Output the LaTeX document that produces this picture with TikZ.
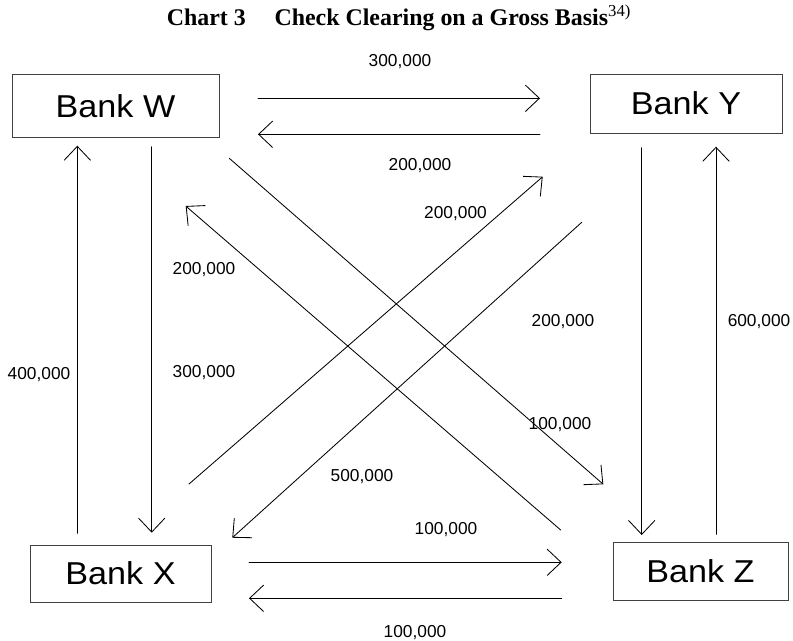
\documentclass[tikz,border=0pt]{standalone}
\usepackage{fontspec}
\setmainfont{Liberation Serif}
\newfontfamily\labelfont{Liberation Sans}
\newfontfamily\bankfont[FakeStretch=1.08]{Liberation Sans}
\usetikzlibrary{arrows.meta}

\begin{document}
\begin{tikzpicture}[x=0.025cm,y=-0.025cm,line cap=round,
  >={Straight Barb[length=3.5mm,width=6.6mm]},
  bank/.style={draw=black!75,line width=0.6pt,inner sep=0pt,
    font=\bankfont\fontsize{22.5}{22.5}\selectfont},
  flow/.style={->,line width=0.6pt},
  amt/.style={font=\labelfont\fontsize{12.3}{12.3}\selectfont,inner sep=0pt}]
\useasboundingbox (0,0) rectangle (793,640);

% title
\node[font=\bfseries\fontsize{17}{17}\selectfont] (title) at (399,18)
  {Chart 3\hspace{1.2em}Check Clearing on a Gross Basis\textsuperscript{\mdseries 34)}};

% banks
\node[bank,minimum width=5.175cm,minimum height=1.575cm] (W) at (115.5,106) {Bank W};
\node[bank,minimum width=4.8cm,minimum height=1.475cm] (Y) at (686,103.5) {Bank Y};
\node[bank,minimum width=4.525cm,minimum height=1.425cm] (X) at (120.5,573.5) {Bank X};
\node[bank,minimum width=4.375cm,minimum height=1.45cm] (Z) at (700.5,571) {Bank Z};

% free ends of the flows
\coordinate (WY-a) at (258,98.3);   \coordinate (WY-b) at (540,98.3);
\coordinate (YW-a) at (540,134.3);  \coordinate (YW-b) at (258,134.3);
\coordinate (XZ-a) at (249,562.3);  \coordinate (XZ-b) at (561.7,562.3);
\coordinate (ZX-a) at (561.7,598.3); \coordinate (ZX-b) at (249,598.3);
\coordinate (XW-a) at (77.3,533.3); \coordinate (XW-b) at (77.3,145.7);
\coordinate (WX-a) at (151.7,146.7); \coordinate (WX-b) at (151.7,532.7);
\coordinate (YZ-a) at (641.7,147.7); \coordinate (YZ-b) at (641.7,535);
\coordinate (ZY-a) at (716,534.3);  \coordinate (ZY-b) at (716,146.7);
\coordinate (WZ-a) at (229.3,158.3); \coordinate (WZ-b) at (603.3,484.3);
\coordinate (ZW-a) at (560.7,530);  \coordinate (ZW-b) at (185.7,206);
\coordinate (XY-a) at (189,484);    \coordinate (XY-b) at (542.7,176.7);
\coordinate (YX-a) at (581.7,222.3); \coordinate (YX-b) at (232.3,537.7);

% flows
\draw[flow] (WY-a) -- (WY-b);
\draw[flow] (YW-a) -- (YW-b);
\draw[flow] (XZ-a) -- (XZ-b);
\draw[flow] (ZX-a) -- (ZX-b);
\draw[flow] (XW-a) -- (XW-b);
\draw[flow] (WX-a) -- (WX-b);
\draw[flow] (YZ-a) -- (YZ-b);
\draw[flow] (ZY-a) -- (ZY-b);
\draw[flow] (WZ-a) -- (WZ-b);
\draw[flow] (ZW-a) -- (ZW-b);
\draw[flow] (XY-a) -- (XY-b);
\draw[flow] (YX-a) -- (YX-b);

% amounts
\node[amt] (aWY) at (400,62) {300,000};
\node[amt] (aYW) at (420,166) {200,000};
\node[amt] (aXZ) at (446,530) {100,000};
\node[amt] (aZX) at (415,632.5) {100,000};
\node[amt] (aXW) at (39,375) {400,000};
\node[amt] (aWX) at (204,373) {300,000};
\node[amt] (aYZ) at (563,322) {200,000};
\node[amt] (aZY) at (759,322) {600,000};
\node[amt] (aWZ) at (560,425) {100,000};
\node[amt] (aZW) at (204,269.5) {200,000};
\node[amt] (aXY) at (455.5,214) {200,000};
\node[amt] (aYX) at (362,476.5) {500,000};
\end{tikzpicture}
\end{document}
